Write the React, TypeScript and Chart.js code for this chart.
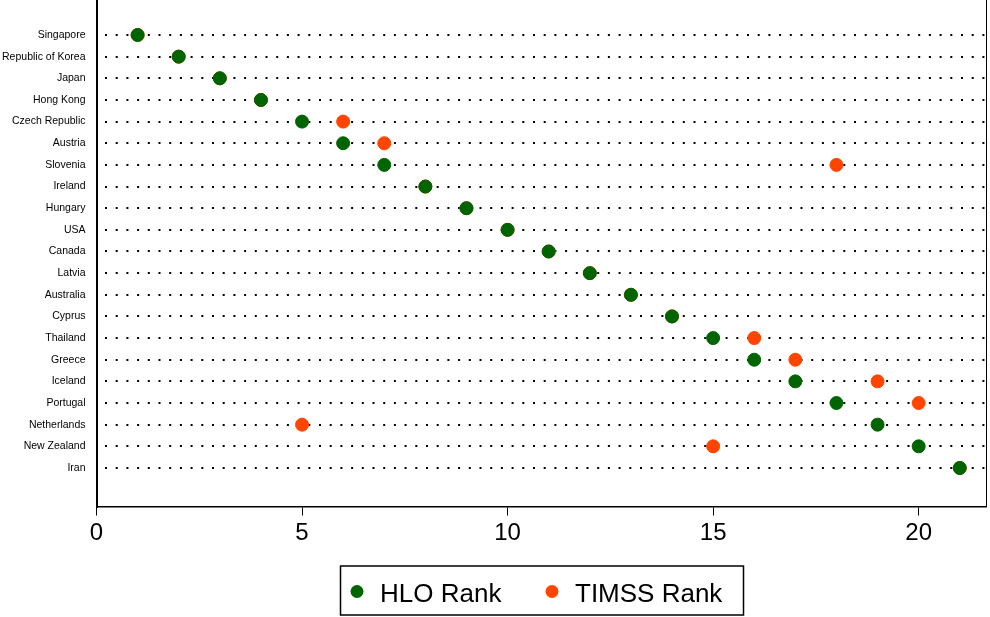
import React, { useEffect, useRef } from "react";
import { Chart, registerables } from "chart.js";

Chart.register(...registerables);

const countries = [
  "Singapore", "Republic of Korea", "Japan", "Hong Kong", "Czech Republic",
  "Austria", "Slovenia", "Ireland", "Hungary", "USA", "Canada", "Latvia",
  "Australia", "Cyprus", "Thailand", "Greece", "Iceland", "Portugal",
  "Netherlands", "New Zealand", "Iran",
];
const hloRank = [1, 2, 3, 4, 5, 6, 7, 8, 9, 10, 11, 12, 13, 14, 15, 16, 17, 18, 19, 20, 21];
const timssRank = [1, 2, 3, 4, 6, 7, 18, 8, 9, 10, 11, 12, 13, 14, 16, 17, 19, 20, 5, 15, 21];
const xTicks = [0, 5, 10, 15, 20];

const GREEN = "#006400";
const ORANGE = "#ff4500";
const FONT = "'Liberation Sans', Arial, Helvetica, sans-serif";

export default function App() {
  const ref = useRef<HTMLCanvasElement | null>(null);

  useEffect(() => {
    document.body.style.margin = "0";
    const canvas = ref.current;
    if (!canvas) return;

    const frame = {
      id: "frame",
      afterDraw(chart: any) {
        const { ctx, chartArea } = chart;
        ctx.save();
        ctx.strokeStyle = "#000";
        ctx.lineWidth = 1;
        ctx.beginPath();
        ctx.moveTo(chartArea.right, chartArea.top);
        ctx.lineTo(chartArea.right, chartArea.bottom);
        ctx.stroke();
        // legend
        ctx.lineWidth = 1.5;
        ctx.strokeRect(340.5, 566, 403, 49);
        const items = [
          { x: 357, tx: 380 },
          { x: 552, tx: 575 },
        ];
        chart.data.datasets.forEach((ds: any, i: number) => {
          const it = items[i];
          ctx.fillStyle = ds.backgroundColor;
          ctx.beginPath();
          ctx.arc(it.x, 591.5, 6.5, 0, Math.PI * 2);
          ctx.fill();
          ctx.fillStyle = "#000";
          ctx.font = `26px ${FONT}`;
          ctx.textBaseline = "alphabetic";
          ctx.textAlign = "left";
          ctx.fillText(ds.label, it.tx, 601.5);
        });
        ctx.restore();
      },
    };

    const toPts = (arr: number[]) =>
      arr.map((v, i) => (v == null ? null : { x: v, y: i + 1 }));

    const zeroPad = (s: any) => {
      s.paddingTop = 0;
      s.paddingBottom = 0;
      s.paddingLeft = 0;
      s.paddingRight = 0;
    };

    const chart = new Chart(canvas, {
      type: "scatter",
      data: {
        datasets: [
          {
            label: "HLO Rank",
            data: toPts(hloRank) as any,
            backgroundColor: GREEN,
            borderColor: GREEN,
            pointRadius: 6.5,
            borderWidth: 1,
          },
          {
            label: "TIMSS Rank",
            data: toPts(timssRank) as any,
            backgroundColor: ORANGE,
            borderColor: ORANGE,
            pointRadius: 6.5,
            borderWidth: 1,
          },
        ],
      },
      options: {
        responsive: false,
        animation: false,
        layout: { autoPadding: false, padding: { top: 0, right: 3.5, bottom: 0, left: 0 } },
        plugins: {
          legend: { display: false },
          tooltip: { enabled: false },
        },
        scales: {
          x: {
            type: "linear",
            min: 0,
            max: 21.65,
            afterFit: (s: any) => {
              s.height = 110.5;
              zeroPad(s);
            },
            afterBuildTicks: (s: any) => {
              s.ticks = xTicks.map((v) => ({ value: v }));
            },
            ticks: {
              color: "#000",
              font: { family: FONT, size: 24 },
              padding: 3,
              maxRotation: 0,
            },
            grid: {
              drawOnChartArea: false,
              drawTicks: true,
              tickLength: 9,
              color: "#000",
              lineWidth: 1,
            },
            border: { display: true, color: "#000", width: 1.5 },
          },
          y: {
            type: "linear",
            reverse: true,
            min: -0.617,
            max: 22.78,
            afterFit: (s: any) => {
              s.width = 96.5;
              zeroPad(s);
            },
            afterBuildTicks: (s: any) => {
              s.ticks = countries.map((_, i) => ({ value: i + 1 }));
            },
            ticks: {
              color: "#000",
              font: { family: FONT, size: 10.5 },
              padding: 11,
              callback: (v: any) => countries[Number(v) - 1] ?? "",
            },
            grid: {
              drawTicks: false,
              color: "#000",
              lineWidth: 2,
            },
            border: { display: true, color: "#000", width: 2, dash: [2, 8.7], dashOffset: -7 },
          },
        },
      },
      plugins: [frame],
    });

    return () => chart.destroy();
  }, []);

  return <canvas ref={ref} width={990} height={617} style={{ display: "block" }} />;
}
